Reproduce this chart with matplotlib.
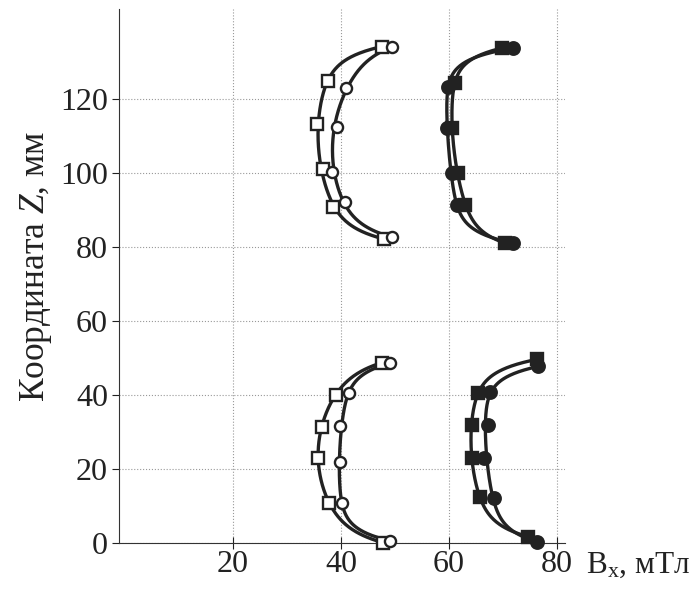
import numpy as np
import matplotlib.pyplot as plt

plt.rcParams['font.family'] = ['Liberation Serif', 'DejaVu Serif']
plt.rcParams['mathtext.fontset'] = 'custom'
plt.rcParams['mathtext.rm'] = 'Liberation Serif'
plt.rcParams['mathtext.it'] = 'Liberation Serif:italic'

# координата Z, мм
z_top_sq = [134.1, 124.7, 113.1, 101.0, 90.9, 82.1]
z_top_ci = [134.0, 122.9, 112.5, 100.1, 92.2, 82.6]
z_bot_sq = [48.7, 40.0, 31.4, 22.9, 10.9, 0.1]
z_bot_ci = [48.6, 40.5, 31.6, 22.0, 10.9, 0.6]
z_ur_sq = [133.7, 124.2, 112.0, 99.9, 91.4, 81.0]
z_ur_ci = [133.7, 123.3, 112.1, 99.9, 91.4, 81.0]
z_lr_sq = [49.6, 40.5, 31.9, 22.9, 12.5, 1.7]
z_lr_ci = [47.7, 40.9, 31.9, 22.9, 12.1, 0.4]

# поле Bx, мТл
bx_ul_sq = [47.5, 37.6, 35.5, 36.7, 38.6, 48.0]
bx_ul_ci = [49.4, 41.0, 39.2, 38.3, 40.7, 49.4]
bx_ur_sq = [69.8, 61.1, 60.5, 61.7, 63.0, 70.4]
bx_ur_ci = [71.9, 59.9, 59.6, 60.5, 61.4, 71.9]
bx_ll_sq = [47.5, 39.0, 36.4, 35.8, 37.8, 47.8]
bx_ll_ci = [49.1, 41.5, 39.9, 39.9, 40.1, 49.1]
bx_lr_sq = [76.2, 65.4, 64.2, 64.2, 65.7, 74.7]
bx_lr_ci = [76.5, 67.6, 67.3, 66.5, 68.3, 76.2]

series = [
    (bx_ul_sq, z_top_sq, 's', 'white'),
    (bx_ul_ci, z_top_ci, 'o', 'white'),
    (bx_ur_sq, z_ur_sq, 's', '#222222'),
    (bx_ur_ci, z_ur_ci, 'o', '#222222'),
    (bx_ll_sq, z_bot_sq, 's', 'white'),
    (bx_ll_ci, z_bot_ci, 'o', 'white'),
    (bx_lr_sq, z_lr_sq, 's', '#222222'),
    (bx_lr_ci, z_lr_ci, 'o', '#222222'),
]


def basis(z, z0, z1, s=3.0):
    zm = 0.5 * (z0 + z1)
    return np.column_stack([np.ones_like(z), z - zm, (z - zm) ** 2,
                            np.exp((z - z1) / s), np.exp((z0 - z) / s)])


fig = plt.figure(figsize=(6.96, 5.89), dpi=100)
ax = fig.add_axes([0.171, 0.078, 0.641, 0.907])

for bx, z, m, fc in series:
    bx = np.array(bx)
    z = np.array(z)
    coef, *_ = np.linalg.lstsq(basis(z, z.min(), z.max()), bx, rcond=None)
    zz = np.linspace(z.min(), z.max(), 300)
    ax.plot(basis(zz, z.min(), z.max()) @ coef, zz, color='#222222', lw=2.4,
            zorder=2, solid_capstyle='round', clip_on=False)
    ms = 8 if fc == 'white' else 9
    ax.plot(bx, z, m, ms=ms, mfc=fc, mec='#222222', mew=1.7, zorder=3,
            clip_on=False)

ax.set_xlim(-1.1, 81.5)
ax.set_ylim(0, 144.3)
ax.set_xticks([20, 40, 60, 80])
ax.set_yticks([0, 20, 40, 60, 80, 100, 120])
ax.grid(True, color='#999999', ls=':', lw=0.8)
ax.spines['top'].set_visible(False)
ax.spines['right'].set_visible(False)
ax.spines['left'].set_color('#333333')
ax.spines['bottom'].set_color('#333333')
ax.tick_params(axis='x', direction='inout', length=8, labelsize=23,
               colors='#222222', pad=1)
ax.tick_params(axis='y', direction='out', length=5, labelsize=23,
               colors='#222222', pad=3)

fig.text(0.052, 0.548, 'Координата $\\mathit{Z}$, мм', rotation=90,
         ha='center', va='center', fontsize=25.5, color='#222222')
fig.text(0.842, 0.041, 'B$_\\mathrm{x}$, мТл', ha='left', va='center',
         fontsize=22.5, color='#222222')

fig.savefig('out.png', dpi=100)
